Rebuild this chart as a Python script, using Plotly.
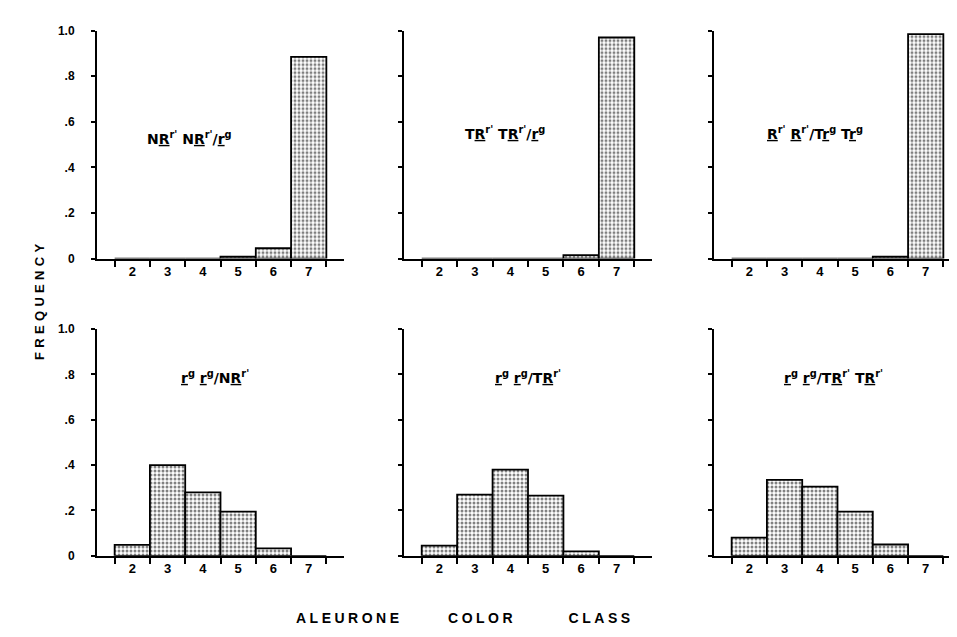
import plotly.graph_objects as go

W, H = 957, 637

# ---- data ----
classes = [2, 3, 4, 5, 6, 7]
class_labels = ["2", "3", "4", "5", "6", "7"]
bin_edges = [1.5, 2.5, 3.5, 4.5, 5.5, 6.5, 7.5]
y_ticks = [0, 0.2, 0.4, 0.6, 0.8, 1.0]
y_tick_labels = ["0", ".2", ".4", ".6", ".8", "1.0"]

freq_NR_NR_r = [0.0, 0.0, 0.0, 0.008, 0.045, 0.885]
freq_TR_TR_r = [0.0, 0.0, 0.0, 0.0, 0.015, 0.97]
freq_R_R_Tr_Tr = [0.0, 0.0, 0.0, 0.0, 0.008, 0.985]
freq_r_r_NR = [0.048, 0.40, 0.28, 0.195, 0.033, 0.0]
freq_r_r_TR = [0.045, 0.27, 0.38, 0.265, 0.02, 0.0]
freq_r_r_TR_TR = [0.08, 0.335, 0.305, 0.195, 0.05, 0.0]

U = lambda s: "<u>" + s + "</u>"
SUP = lambda s: "<sup>" + s + "</sup>"
label_1 = "N" + U("R") + SUP("r'") + " N" + U("R") + SUP("r'") + "/" + U("r") + SUP("g")
label_2 = "T" + U("R") + SUP("r'") + " T" + U("R") + SUP("r'") + "/" + U("r") + SUP("g")
label_3 = U("R") + SUP("r'") + " " + U("R") + SUP("r'") + "/T" + U("r") + SUP("g") + " T" + U("r") + SUP("g")
label_4 = U("r") + SUP("g") + " " + U("r") + SUP("g") + "/N" + U("R") + SUP("r'")
label_5 = U("r") + SUP("g") + " " + U("r") + SUP("g") + "/T" + U("R") + SUP("r'")
label_6 = U("r") + SUP("g") + " " + U("r") + SUP("g") + "/T" + U("R") + SUP("r'") + " T" + U("R") + SUP("r'")

panels = [
    (freq_NR_NR_r, label_1, (3.62, 0.53)),
    (freq_TR_TR_r, label_2, (3.85, 0.55)),
    (freq_R_R_Tr_Tr, label_3, (3.85, 0.55)),
    (freq_r_r_NR, label_4, (4.35, 0.79)),
    (freq_r_r_TR, label_5, (4.5, 0.79)),
    (freq_r_r_TR_TR, label_6, (4.4, 0.79)),
]

# ---- layout geometry (pixels) ----
col_px = [(89, 336), (396, 644), (706, 953)]
row_px = [(16, 249), (321, 553)]

def px_x(a, b):
    return [a / W, b / W]

def px_y(top, bottom):
    return [1 - bottom / H, 1 - top / H]

FONT = "Liberation Sans"
LABEL_FONT = "DejaVu Sans"
fig = go.Figure()
layout = dict(
    width=W, height=H, margin=dict(l=0, r=0, t=0, b=0),
    paper_bgcolor="white", plot_bgcolor="white", showlegend=False,
    font=dict(family=FONT, color="black"),
)
annotations = []

for i, (vals, lab, pos) in enumerate(panels):
    r, c = divmod(i, 3)
    n = i + 1
    xa = "x" if n == 1 else f"x{n}"
    ya = "y" if n == 1 else f"y{n}"
    fig.add_trace(go.Bar(
        x=classes, y=vals, width=1, xaxis=xa, yaxis=ya,
        marker=dict(color="white", line=dict(color="black", width=1.8),
                    pattern=dict(shape=".", fgcolor="black", bgcolor="white",
                                 size=4, solidity=0.45)),
        hoverinfo="skip",
    ))
    layout["xaxis" if n == 1 else f"xaxis{n}"] = dict(
        domain=px_x(*col_px[c]), range=[1, 8], anchor=ya,
        showline=True, linecolor="black", linewidth=2,
        showgrid=False, zeroline=False,
        tickmode="array", tickvals=classes, ticktext=class_labels, ticks="",
        tickfont=dict(size=13, family=FONT, color="black", weight="bold"),
        minor=dict(tickmode="array", tickvals=bin_edges, ticks="outside",
                   ticklen=6, tickwidth=1.5, tickcolor="black"),
        fixedrange=True,
    )
    layout["yaxis" if n == 1 else f"yaxis{n}"] = dict(
        domain=px_y(*row_px[r]), range=[0, 1.0], anchor=xa,
        showline=True, linecolor="black", linewidth=2,
        showgrid=False, zeroline=False,
        tickmode="array", tickvals=y_ticks, ticktext=y_tick_labels,
        ticks="outside", ticklen=4, tickwidth=1.5, tickcolor="black",
        showticklabels=(c == 0), ticklabelstandoff=14,
        tickfont=dict(size=12, family=FONT, color="black", weight="bold"),
        fixedrange=True,
    )
    annotations.append(dict(
        x=pos[0], y=pos[1], xref=xa, yref=ya, text=lab, showarrow=False,
        font=dict(size=14, family=LABEL_FONT, color="black", weight="bold"),
    ))

annotations.append(dict(
    x=22 / W, y=1 - 293 / H, xref="paper", yref="paper",
    text="\u2004".join("FREQUENCY"), textangle=-90, showarrow=False,
    font=dict(size=13, family=FONT, color="black", weight="bold"),
))
gap1 = "\u2003\u2003\u2003\u2002"
gap2 = "\u2003\u2003\u2003\u2003"
annotations.append(dict(
    x=455 / W, y=1 - 627 / H, xref="paper", yref="paper",
    text="\u2005".join("ALEURONE") + gap1 + "\u2005".join("COLOR") + gap2 + "\u2005".join("CLASS"),
    showarrow=False,
    font=dict(size=14, family=FONT, color="black", weight="bold"),
))
layout["annotations"] = annotations
fig.update_layout(**layout)
fig.write_html("out.html")
